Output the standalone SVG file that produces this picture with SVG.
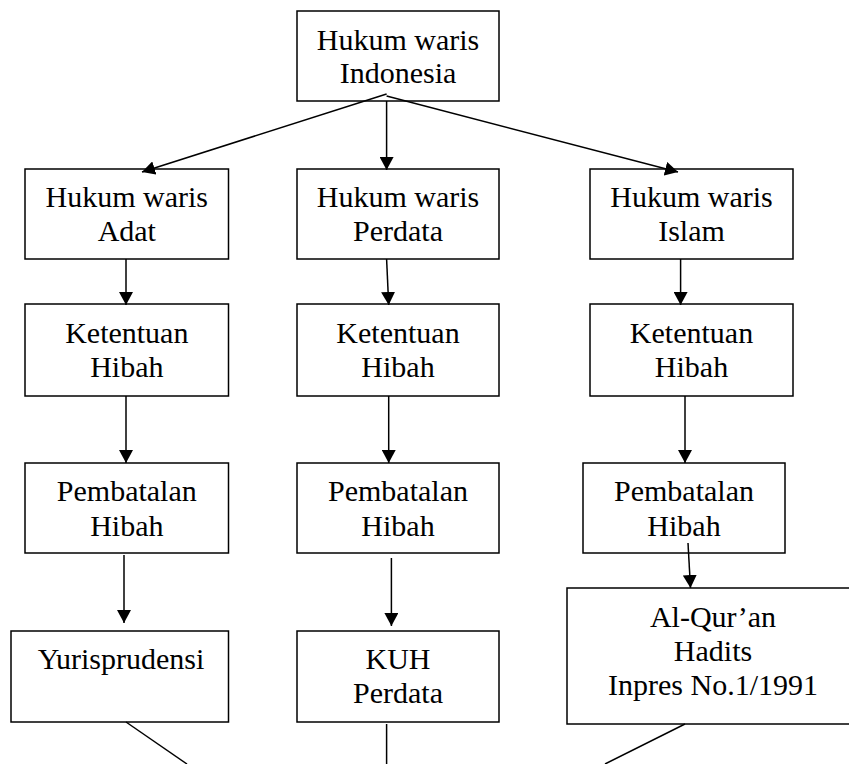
<svg xmlns="http://www.w3.org/2000/svg" width="849" height="764" viewBox="0 0 849 764">
<style>
.box{fill:#fff;stroke:#000;stroke-width:1.5}
.t{font-family:"Liberation Serif","Times New Roman",serif;font-size:30px;fill:#000;text-anchor:middle}
.c{stroke:#000;stroke-width:1.5;fill:none}
</style>
<defs>
<marker id="ah" markerUnits="userSpaceOnUse" markerWidth="14" markerHeight="14" refX="13" refY="7" orient="auto">
<path d="M0,0 L13,7 L0,14 z" fill="#000"/>
</marker>
</defs>
<rect width="849" height="764" fill="#fff"/>
<g id="n-indonesia">
<rect class="box" x="297" y="11" width="202" height="90"/>
<text class="t" x="398" y="50">Hukum waris</text>
<text class="t" x="398" y="83">Indonesia</text>
</g>
<g id="n-adat">
<rect class="box" x="25" y="169" width="203.5" height="90"/>
<text class="t" x="126.8" y="207">Hukum waris</text>
<text class="t" x="126.8" y="241">Adat</text>
</g>
<g id="n-perdata">
<rect class="box" x="297" y="169" width="202" height="90"/>
<text class="t" x="398" y="207">Hukum waris</text>
<text class="t" x="398" y="241">Perdata</text>
</g>
<g id="n-islam">
<rect class="box" x="590" y="169" width="203" height="90"/>
<text class="t" x="691.5" y="207">Hukum waris</text>
<text class="t" x="691.5" y="241">Islam</text>
</g>
<g id="n-ketentuan-adat">
<rect class="box" x="25" y="304" width="203.5" height="92"/>
<text class="t" x="126.8" y="343">Ketentuan</text>
<text class="t" x="126.8" y="377">Hibah</text>
</g>
<g id="n-ketentuan-perdata">
<rect class="box" x="297" y="304" width="202" height="92"/>
<text class="t" x="398" y="343">Ketentuan</text>
<text class="t" x="398" y="377">Hibah</text>
</g>
<g id="n-ketentuan-islam">
<rect class="box" x="590" y="304" width="203" height="92"/>
<text class="t" x="691.5" y="343">Ketentuan</text>
<text class="t" x="691.5" y="377">Hibah</text>
</g>
<g id="n-pembatalan-adat">
<rect class="box" x="25" y="463" width="203.5" height="90"/>
<text class="t" x="126.8" y="501">Pembatalan</text>
<text class="t" x="126.8" y="536">Hibah</text>
</g>
<g id="n-pembatalan-perdata">
<rect class="box" x="297" y="463" width="202" height="90"/>
<text class="t" x="398" y="501">Pembatalan</text>
<text class="t" x="398" y="536">Hibah</text>
</g>
<g id="n-pembatalan-islam">
<rect class="box" x="583" y="463" width="202" height="90"/>
<text class="t" x="684" y="501">Pembatalan</text>
<text class="t" x="684" y="536">Hibah</text>
</g>
<g id="n-yurisprudensi">
<rect class="box" x="11" y="631" width="217.5" height="91"/>
<text class="t" x="121" y="669">Yurisprudensi</text>
</g>
<g id="n-kuh">
<rect class="box" x="297" y="631" width="202" height="91"/>
<text class="t" x="398" y="669">KUH</text>
<text class="t" x="398" y="703">Perdata</text>
</g>
<g id="n-quran">
<rect class="box" x="567" y="588" width="292" height="136"/>
<text class="t" x="713" y="627">Al-Qur’an</text>
<text class="t" x="713" y="661">Hadits</text>
<text class="t" x="713" y="695">Inpres No.1/1991</text>
</g>
<g id="connectors">
<line class="c" x1="386.6" y1="94" x2="142" y2="172" marker-end="url(#ah)"/>
<line class="c" x1="386.6" y1="101" x2="386.6" y2="170" marker-end="url(#ah)"/>
<line class="c" x1="386.6" y1="96" x2="678" y2="172" marker-end="url(#ah)"/>
<line class="c" x1="126" y1="259" x2="126" y2="305" marker-end="url(#ah)"/>
<line class="c" x1="386.6" y1="259" x2="388.7" y2="305" marker-end="url(#ah)"/>
<line class="c" x1="680.6" y1="259" x2="680.6" y2="305" marker-end="url(#ah)"/>
<line class="c" x1="126" y1="396" x2="126" y2="463" marker-end="url(#ah)"/>
<line class="c" x1="388.7" y1="396" x2="388.7" y2="463" marker-end="url(#ah)"/>
<line class="c" x1="685" y1="396" x2="685" y2="463" marker-end="url(#ah)"/>
<line class="c" x1="124" y1="555" x2="124" y2="623" marker-end="url(#ah)"/>
<line class="c" x1="391.4" y1="558" x2="391.4" y2="626" marker-end="url(#ah)"/>
<line class="c" x1="688" y1="543" x2="690.5" y2="588" marker-end="url(#ah)"/>
<line class="c" x1="126" y1="722" x2="187" y2="764"/>
<line class="c" x1="386.6" y1="724" x2="386.6" y2="764"/>
<line class="c" x1="685" y1="724" x2="605" y2="764"/>
</g>
</svg>
